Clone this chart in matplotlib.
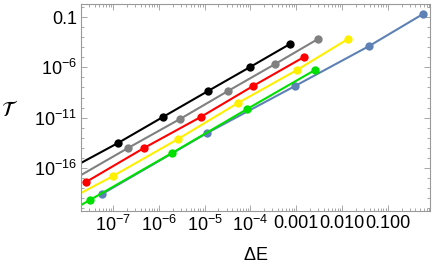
import numpy as np
import matplotlib
matplotlib.use("Agg")
import matplotlib.pyplot as plt
from matplotlib.ticker import FixedLocator, FixedFormatter, NullFormatter

plt.rcParams["font.family"] = ["Liberation Sans", "DejaVu Sans"]
plt.rcParams["mathtext.fontset"] = "custom"
plt.rcParams["mathtext.rm"] = "Liberation Sans"
plt.rcParams["mathtext.it"] = "Liberation Sans:italic"
plt.rcParams["mathtext.bf"] = "Liberation Sans:bold"

# marker points (Delta E, T)
dE_blue = [5.75e-8, 1.13e-5, 9.4e-4, 3.89e-2, 0.587]
T_blue = [2.6e-19, 3.0e-13, 1.4e-8, 1.3e-4, 0.2]

dE_green = [3.15e-8, 1.94e-6, 8.43e-5, 2.57e-3]
T_green = [6.8e-20, 3.1e-15, 7.2e-11, 5.5e-7]

dE_yellow = [1.0e-7, 2.62e-6, 5.36e-5, 1.04e-3, 1.35e-2]
T_yellow = [1.6e-17, 7.6e-14, 2.9e-10, 5.5e-7, 6.6e-4]

dE_red = [2.57e-8, 4.75e-7, 8.3e-6, 1.14e-4, 1.48e-3]
T_red = [4.1e-18, 9.8e-15, 1.2e-11, 1.4e-8, 1.07e-5]

dE_gray = [2.13e-7, 2.90e-6, 3.24e-5, 3.44e-4, 2.99e-3]
T_gray = [9.8e-15, 7.4e-12, 4.5e-9, 2.1e-6, 6.6e-4]

dE_black = [1.29e-7, 1.24e-6, 1.19e-5, 9.8e-5, 7.3e-4]
T_black = [3.1e-14, 1.2e-11, 4.5e-9, 1.07e-6, 2.1e-4]

# where the lines start at the left edge of the frame
tail_green = (2.0e-8, 2.1e-20)
tail_yellow = (2.0e-8, 3.3e-19)
tail_gray = (2.0e-8, 2.0e-17)
tail_black = (2.0e-8, 3.2e-16)

xticks = [1e-7, 1e-6, 1e-5, 1e-4, 1e-3, 1e-2, 1e-1]
xlabels = ["$10^{-7}$", "$10^{-6}$", "$10^{-5}$", "$10^{-4}$", "0.001", "0.010", "0.100"]
yticks = [1e-16, 1e-11, 1e-6, 1e-1]
ylabels = ["$10^{-16}$", "$10^{-11}$", "$10^{-6}$", "0.1"]

series = [
    (dE_blue, T_blue, None, "#5E81B5"),
    (dE_green, T_green, tail_green, "#00E000"),
    (dE_yellow, T_yellow, tail_yellow, "#FFF000"),
    (dE_red, T_red, None, "#FF0000"),
    (dE_gray, T_gray, tail_gray, "#808080"),
    (dE_black, T_black, tail_black, "#000000"),
]

fig = plt.figure(figsize=(4.36, 2.73), dpi=100)
ax = fig.add_axes([0.1858, 0.2271, 0.8004, 0.7582])

for xs, ys, tail, col in series:
    lx, ly = list(xs), list(ys)
    if tail is not None:
        lx = [tail[0]] + lx
        ly = [tail[1]] + ly
    ax.plot(lx, ly, color=col, lw=1.5, solid_capstyle="butt")
    ax.plot(xs, ys, "o", color=col, ms=6, mec="none")

ax.set_xscale("log")
ax.set_yscale("log")
ax.set_xlim(2.0e-8, 0.83)
ax.set_ylim(5.4e-21, 1.95)

ax.xaxis.set_major_locator(FixedLocator(xticks))
ax.xaxis.set_major_formatter(FixedFormatter(xlabels))
xminor = [m * 10.0 ** e for e in range(-8, 0) for m in range(2, 10)]
ax.xaxis.set_minor_locator(FixedLocator(xminor))
ax.xaxis.set_minor_formatter(NullFormatter())

ax.yaxis.set_major_locator(FixedLocator(yticks))
ax.yaxis.set_major_formatter(FixedFormatter(ylabels))
ax.yaxis.set_minor_locator(FixedLocator([10.0 ** e for e in range(-21, 1)]))
ax.yaxis.set_minor_formatter(NullFormatter())

edge = "#999999"
for s in ax.spines.values():
    s.set_color(edge)
    s.set_linewidth(0.8)
ax.tick_params(which="both", direction="in", top=True, right=True, color=edge,
               labelsize=13, width=0.6)
ax.tick_params(which="major", length=4.5, pad=3)
ax.tick_params(which="minor", length=2.2)

fig.text(256 / 436, 1 - 256 / 273, r"$\Delta$E", fontsize=13, ha="center", va="center")
fig.text(10 / 436, 1 - 110 / 273, r"$\mathcal{T}$", fontsize=15, ha="center", va="center",
         math_fontfamily="stix")

fig.savefig("out.png", dpi=100)
